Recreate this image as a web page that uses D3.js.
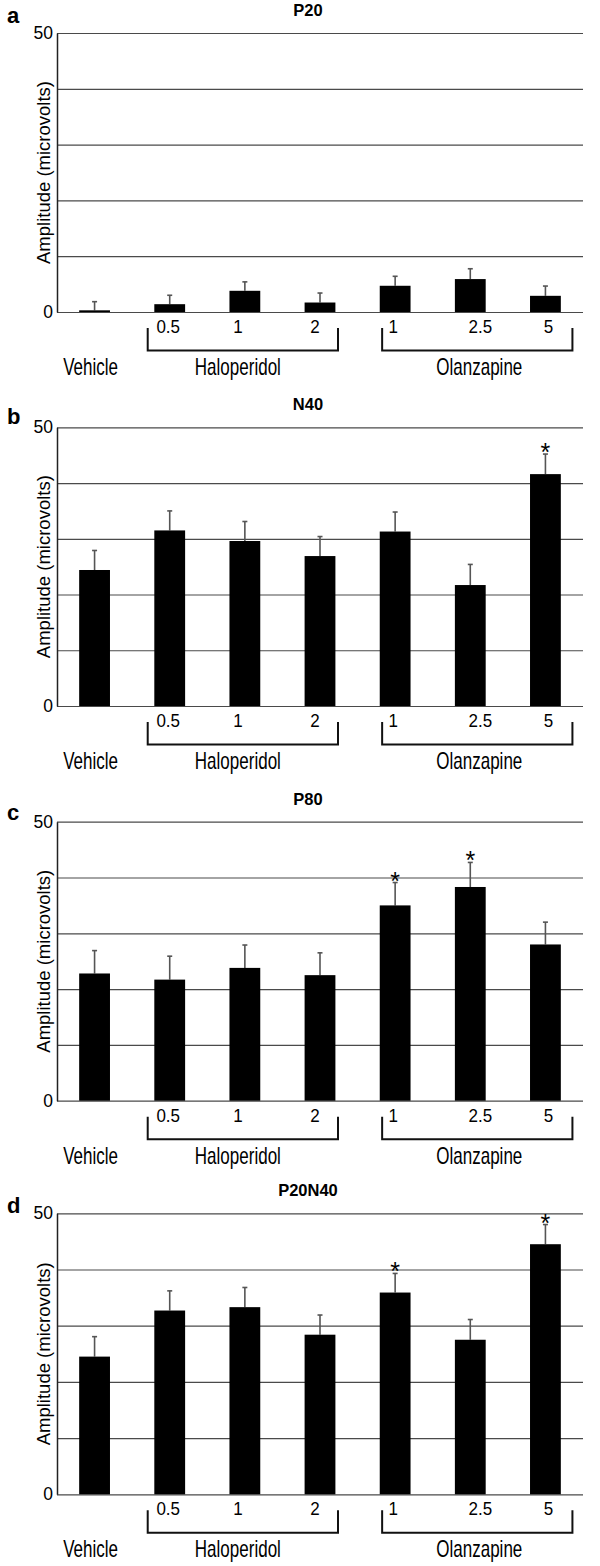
<!DOCTYPE html>
<html>
<head>
<meta charset="utf-8">
<script src="https://cdn.jsdelivr.net/npm/d3@7"></script>
<style>
  html, body { margin: 0; padding: 0; background: #fff; }
  svg { display: block; font-family: "Liberation Sans", Arial, sans-serif; }
</style>
</head>
<body>
<svg id="chart" width="600" height="1566"></svg>
<script>
// ---------- DATA ----------
const categories = ["Vehicle", "0.5", "1", "2", "1", "2.5", "5"];
const panelLetters = ["a", "b", "c", "d"];
const panelTitles = ["P20", "N40", "P80", "P20N40"];
const yTickLabels = [0, 50];

const meansP20 = [0.3, 1.4, 3.8, 1.7, 4.7, 5.9, 2.9];
const errP20   = [1.55, 1.6, 1.6, 1.7, 1.7, 1.85, 1.75];

const meansN40 = [24.4, 31.5, 29.6, 26.9, 31.3, 21.7, 41.6];
const errN40   = [3.5, 3.5, 3.5, 3.5, 3.5, 3.7, 3.6];

const meansP80 = [22.8, 21.7, 23.8, 22.5, 35.0, 38.3, 28.0];
const errP80   = [4.1, 4.2, 4.1, 4.0, 4.1, 4.4, 4.0];

const meansP20N40 = [24.5, 32.7, 33.3, 28.4, 35.9, 27.5, 44.5];
const errP20N40   = [3.55, 3.5, 3.5, 3.5, 3.4, 3.6, 3.5];

const starsP20 = [];
const starsN40 = [6];
const starsP80 = [4, 5];
const starsP20N40 = [4, 6];

const groups = [
  { label: "Haloperidol", from: 1, to: 3 },
  { label: "Olanzapine",  from: 4, to: 6 }
];
const vehicleLabel = "Vehicle";

const panelMeans = [meansP20, meansN40, meansP80, meansP20N40];
const panelErrs  = [errP20, errN40, errP80, errP20N40];
const panelStars = [starsP20, starsN40, starsP80, starsP20N40];

// ---------- LAYOUT ----------
const plotLeft = 57, plotRight = 583;
const panelTopPx  = [33, 427.3, 821.7, 1213.3];
const panelZeroPx = [312, 706, 1100.7, 1494.3];
const letterDy = [-10, -3, -2, 0];
const tickNudge = [0, -1.5, -7, -5, -2, 10, 3];
const bracketPad = [[-22, 18], [-13, 27]];
const groupLabelNudge = [-5, 2];

const svg = d3.select("#chart");

const x = d3.scaleBand()
  .domain(d3.range(categories.length))
  .range([plotLeft, plotRight])
  .paddingInner(0.59)
  .paddingOuter(0.295);

panelTitles.forEach((title, p) => {
  const y = d3.scaleLinear().domain([0, 50]).range([panelZeroPx[p], panelTopPx[p]]);
  const g = svg.append("g");
  const zero = panelZeroPx[p];
  const top = panelTopPx[p];

  // gridlines
  const gridAxis = d3.axisLeft(y).tickValues(d3.range(0, 51, 10))
    .tickSize(-(plotRight - plotLeft)).tickFormat("");
  const gg = g.append("g").attr("transform", `translate(${plotLeft},0)`).call(gridAxis);
  gg.select(".domain").remove();
  gg.selectAll(".tick line").attr("stroke", "#4a4a4a").attr("stroke-width", 1.2);

  // y axis line + labels
  const yAxis = d3.axisLeft(y).tickValues(yTickLabels).tickSize(0).tickPadding(4)
    .tickFormat(d3.format("d"));
  const ya = g.append("g").attr("transform", `translate(${plotLeft},0)`).call(yAxis);
  ya.select(".domain").attr("stroke", "#222").attr("stroke-width", 1.5);
  ya.selectAll("text")
    .attr("font-family", "Liberation Sans, Arial, sans-serif")
    .attr("font-size", 17.5).attr("fill", "#000");

  // y axis title
  g.append("text")
    .attr("transform", `translate(50,${(top + zero) / 2}) rotate(-90)`)
    .attr("text-anchor", "middle")
    .attr("font-size", 18.5)
    .text("Amplitude (microvolts)");

  // panel title
  g.append("text")
    .attr("x", 308).attr("y", top - 17)
    .attr("text-anchor", "middle")
    .attr("font-size", 16.5).attr("font-weight", "bold")
    .text(title);

  // panel letter
  g.append("text")
    .attr("x", 7).attr("y", top + letterDy[p])
    .attr("font-size", 22).attr("font-weight", "bold")
    .text(panelLetters[p]);

  const means = panelMeans[p], errs = panelErrs[p];
  const idx = d3.range(categories.length);

  // error bars (upper only)
  g.selectAll(".err").data(idx).enter().append("line")
    .attr("x1", i => x(i) + x.bandwidth() / 2)
    .attr("x2", i => x(i) + x.bandwidth() / 2)
    .attr("y1", i => y(means[i]))
    .attr("y2", i => y(means[i] + errs[i]))
    .attr("stroke", "#555").attr("stroke-width", 1.6);
  g.selectAll(".cap").data(idx).enter().append("line")
    .attr("x1", i => x(i) + x.bandwidth() / 2 - 2.5)
    .attr("x2", i => x(i) + x.bandwidth() / 2 + 2.5)
    .attr("y1", i => y(means[i] + errs[i]))
    .attr("y2", i => y(means[i] + errs[i]))
    .attr("stroke", "#555").attr("stroke-width", 1.6);

  // bars
  g.selectAll(".bar").data(idx).enter().append("rect")
    .attr("x", i => x(i))
    .attr("width", x.bandwidth())
    .attr("y", i => y(means[i]))
    .attr("height", i => Math.max(1.2, zero - y(means[i])))
    .attr("fill", "#000");

  // stars
  g.selectAll(".star").data(panelStars[p]).enter().append("text")
    .attr("x", i => x(i) + x.bandwidth() / 2)
    .attr("y", i => y(means[i] + errs[i]) + 7)
    .attr("text-anchor", "middle")
    .attr("font-size", 25)
    .text("*");

  // category labels (condensed)
  g.selectAll(".cat").data(idx.slice(1)).enter().append("text")
    .attr("transform", i => `translate(${x(i) + x.bandwidth() / 2 + tickNudge[i]},${zero + 21}) scale(0.92,1)`)
    .attr("text-anchor", "middle")
    .attr("font-size", 18.5)
    .text(i => categories[i]);

  // brackets
  groups.forEach((grp, k) => {
    const x0 = x(grp.from) + x.bandwidth() / 2 + bracketPad[k][0];
    const x1 = x(grp.to) + x.bandwidth() / 2 + bracketPad[k][1];
    const path = d3.path();
    path.moveTo(x0, zero + 16);
    path.lineTo(x0, zero + 38.5);
    path.lineTo(x1, zero + 38.5);
    path.lineTo(x1, zero + 16);
    g.append("path").attr("d", path.toString())
      .attr("fill", "none").attr("stroke", "#111").attr("stroke-width", 2);
    g.append("text")
      .attr("transform", `translate(${(x0 + x1) / 2 + groupLabelNudge[k]},${zero + 63}) scale(0.74,1)`)
      .attr("text-anchor", "middle")
      .attr("font-size", 23)
      .text(grp.label);
  });

  // vehicle label
  g.append("text")
    .attr("transform", `translate(${x(0) + x.bandwidth() / 2 - 4},${zero + 63}) scale(0.74,1)`)
    .attr("text-anchor", "middle")
    .attr("font-size", 23)
    .text(vehicleLabel);
});
</script>
</body>
</html>
